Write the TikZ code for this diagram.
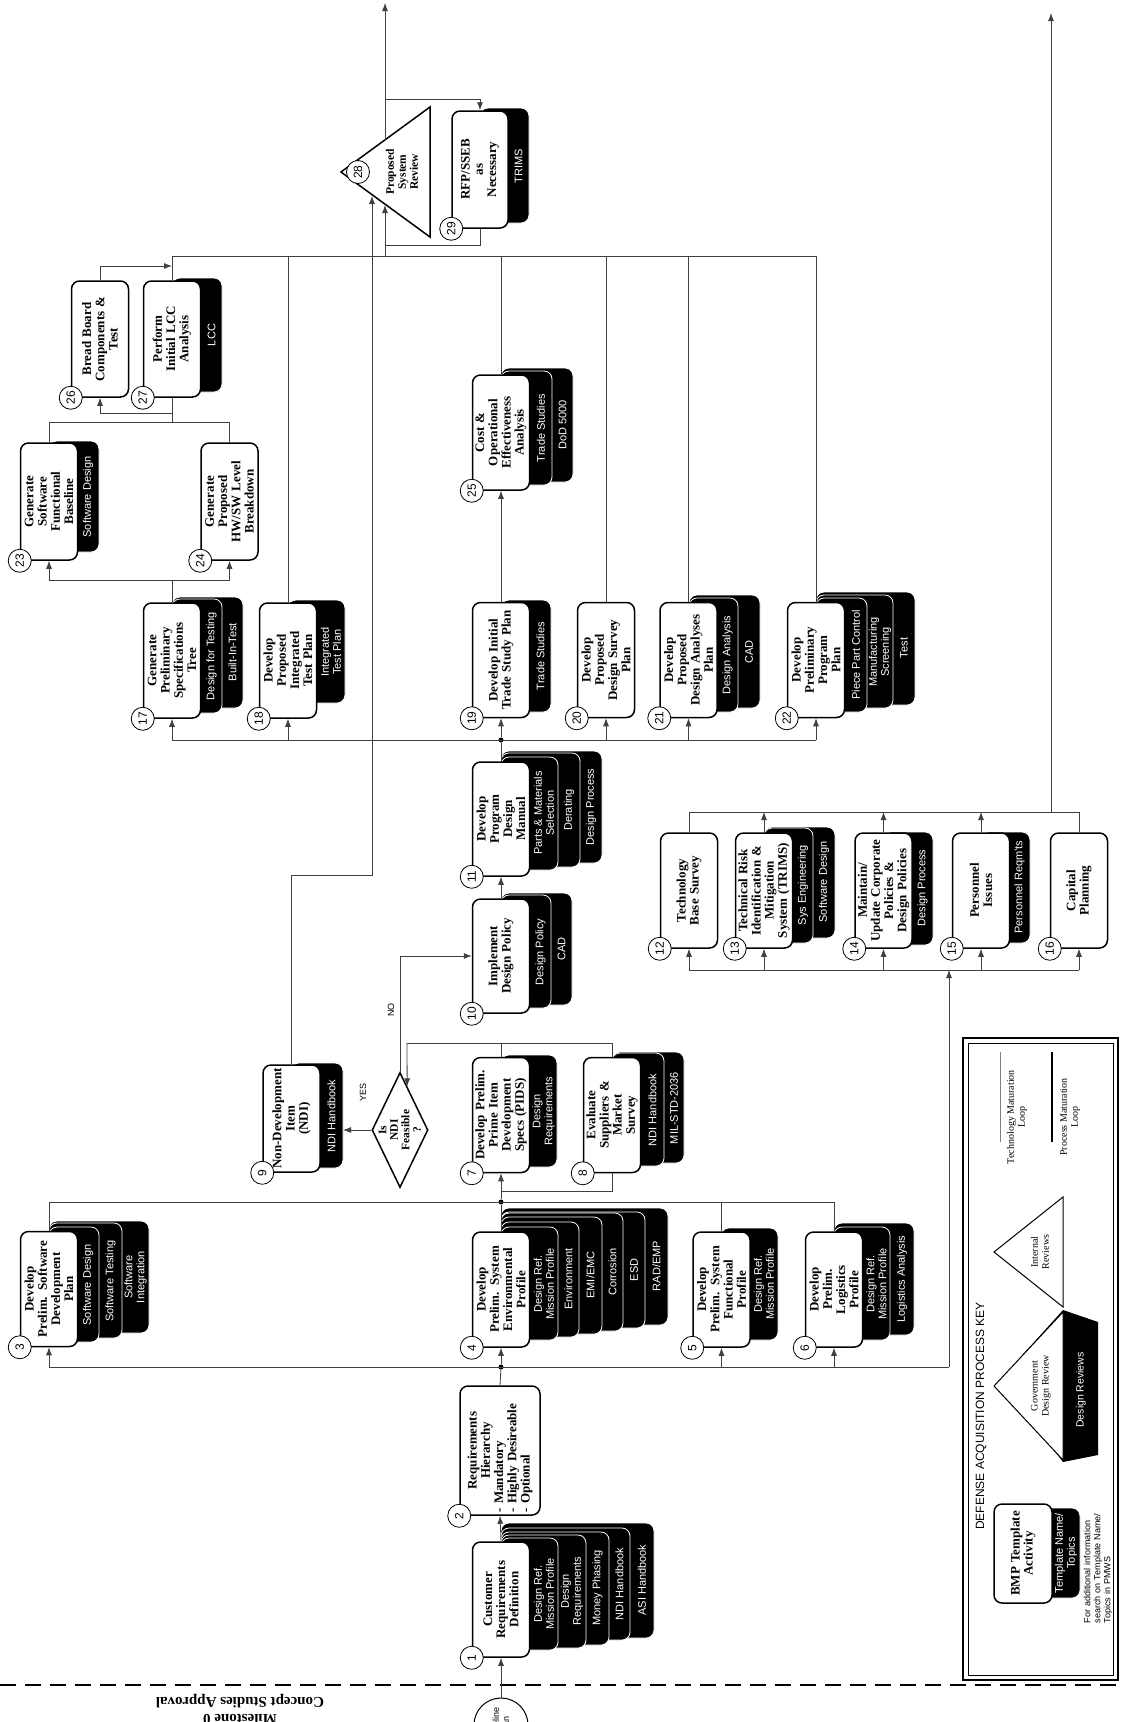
\documentclass[tikz,border=0pt]{standalone}
\usepackage{fontspec}
\setmainfont{Liberation Serif}
\setsansfont{Liberation Sans}
\usetikzlibrary{shapes.geometric, arrows.meta, calc}

\begin{document}
\begin{tikzpicture}[x=1pt, y=-1pt,
    act/.style={draw, line width=1.5pt, fill=white, rounded corners=8pt, rotate=90,
        align=center, inner sep=1pt, minimum width=115pt, minimum height=57pt,
        text width=112pt, font=\bfseries\fontsize{13}{13.2}\selectfont},
    num/.style={circle, draw, fill=white, line width=0.8pt, inner sep=0pt,
        minimum size=23pt, rotate=90, font=\sffamily\fontsize{12}{12}\selectfont},
    tabbox/.style={fill=black, draw=white, line width=0.8pt, rounded corners=8pt},
    tabtxt/.style={rotate=90, text=white, align=center, inner sep=0pt,
        font=\sffamily\fontsize{11}{12}\selectfont},
    link/.style={draw=black!75, line width=0.8pt},
    flow/.style={link, -{Latex[length=8pt, width=6pt]}},
    jdot/.style={circle, fill=black, inner sep=0pt, minimum size=5pt},
    keytxt/.style={rotate=90, align=center, font=\fontsize{10}{11}\selectfont}
]
\useasboundingbox (0,0) rectangle (1120,1722);

    % milestone line
    \draw[line width=1.5pt, dash pattern=on 16pt off 9pt] (0,1685) -- (1120,1685);
    \node[rotate=180, align=center, font=\bfseries\fontsize{15}{17}\selectfont] (ms0) at (240,1710) {Milestone 0\\Concept Studies Approval};
    \node[circle, draw, line width=1pt, fill=white, minimum size=54pt, rotate=90, align=center, font=\sffamily\fontsize{9}{10}\selectfont] (st) at (501,1725) {Baseline\\Plan};

    % 1
    \filldraw[tabbox] (501,1523) rectangle (654,1638); \node[tabtxt] (k1e) at (642,1580) {ASI Handbook};
    \filldraw[tabbox] (501,1528) rectangle (630,1640); \node[tabtxt] (k1d) at (619.5,1584) {NDI Handbook};
    \filldraw[tabbox] (501,1532) rectangle (609,1645); \node[tabtxt] (k1c) at (597.5,1588) {Money Phasing};
    \filldraw[tabbox] (501,1535) rectangle (586,1648); \node[tabtxt] (k1b) at (572,1591) {Design\\Requirements};
    \filldraw[tabbox] (501,1538) rectangle (558,1650); \node[tabtxt] (k1a) at (544,1594) {Design Ref.\\Mission Profile};
    \node[act] (b1) at (501,1599.5) {Customer\\Requirements\\Definition};
    \node[num] (n1) at (b1.north west) {1};

    % 2
    \node[act, minimum width=129pt, minimum height=80pt, text width=124pt, align=left] (b2) at (500,1450.5)
        {\hfill Requirements\hfill\null\\\hfill Hierarchy\hfill\null\\- Mandatory\\- Highly Desireable\\- Optional};
    \node[num] (n2) at (b2.north west) {2};

    % 3 - 6
    \filldraw[tabbox] (49,1221) rectangle (149,1333); \node[tabtxt] (k3c) at (135.5,1277) {Software\\Integration};
    \filldraw[tabbox] (49,1223) rectangle (122,1338); \node[tabtxt] (k3b) at (110.5,1281) {Software Testing};
    \filldraw[tabbox] (49,1227) rectangle (99,1342); \node[tabtxt] (k3a) at (88,1285) {Software Design};
    \node[act] (b3) at (49,1289) {Develop\\Prelim. Software\\Development\\Plan};
    \node[num] (n3) at (b3.north west) {3};

    \filldraw[tabbox] (501,1208) rectangle (668,1325); \node[tabtxt] (k4f) at (656.5,1266) {RAD/EMP};
    \filldraw[tabbox] (501,1212) rectangle (645,1328); \node[tabtxt] (k4e) at (634,1270) {ESD};
    \filldraw[tabbox] (501,1213) rectangle (623,1331); \node[tabtxt] (k4d) at (612.5,1272) {Corrosion};
    \filldraw[tabbox] (501,1217) rectangle (602,1334); \node[tabtxt] (k4c) at (590.5,1275) {EMI/EMC};
    \filldraw[tabbox] (501,1222) rectangle (579,1337); \node[tabtxt] (k4b) at (568.5,1279) {Environment};
    \filldraw[tabbox] (501,1227) rectangle (558,1340); \node[tabtxt] (k4a) at (544,1284) {Design Ref.\\Mission Profile};
    \node[act] (b4) at (501,1289.5) {Develop\\Prelim. System\\Environmental\\Profile};
    \node[num] (n4) at (b4.north west) {4};

    \filldraw[tabbox] (721,1228) rectangle (778,1340); \node[tabtxt] (k5a) at (764,1284) {Design Ref.\\Mission Profile};
    \node[act] (b5) at (721.5,1289.5) {Develop\\Prelim. System\\Functional\\Profile};
    \node[num] (n5) at (b5.north west) {5};

    \filldraw[tabbox] (834,1223) rectangle (914,1335); \node[tabtxt] (k6b) at (902,1279) {Logistics Analysis};
    \filldraw[tabbox] (834,1227) rectangle (890,1340); \node[tabtxt] (k6a) at (876.5,1284) {Design Ref.\\Mission Profile};
    \node[act] (b6) at (834,1289.5) {Develop\\Prelim.\\Logistics\\Profile};
    \node[num] (n6) at (b6.north west) {6};

    % 7 - 9, decision
    \filldraw[tabbox] (501,1055) rectangle (557,1167); \node[tabtxt] (k7a) at (543.5,1111) {Design\\Requirements};
    \node[act] (b7) at (501,1115) {Develop Prelim.\\Prime Item\\Development\\Specs (PIDS)};
    \node[num] (n7) at (b7.north west) {7};

    \filldraw[tabbox] (612,1052) rectangle (684,1163); \node[tabtxt] (k8b) at (674,1108) {MIL-STD-2036};
    \filldraw[tabbox] (612,1053) rectangle (664,1166); \node[tabtxt] (k8a) at (652.5,1110) {NDI Handbook};
    \node[act] (b8) at (612,1115) {Evaluate\\Suppliers \&\\Market\\Survey};
    \node[num] (n8) at (b8.north west) {8};

    \filldraw[tabbox] (291,1063) rectangle (343,1168); \node[tabtxt] (k9a) at (331.5,1116) {NDI Handbook};
    \node[act, minimum width=107pt, text width=104pt] (b9) at (291.5,1118.5) {Non-Development\\Item\\(NDI)};
    \node[num] (n9) at (b9.north west) {9};

    \node[diamond, draw, line width=1.5pt, fill=white, rotate=90, minimum width=115pt, minimum height=56pt, inner sep=0pt] (ndi) at (400,1130) {};
    \node[rotate=90, align=center, font=\bfseries\fontsize{11.5}{11.5}\selectfont] (ndit) at (ndi) {Is\\NDI\\Feasible\\?};

    % 10, 11
    \filldraw[tabbox] (501,893) rectangle (572,1005); \node[tabtxt] (k10b) at (561.5,949) {CAD};
    \filldraw[tabbox] (501,895) rectangle (551,1008); \node[tabtxt] (k10a) at (540.5,952) {Design Policy};
    \node[act, minimum width=114pt] (b10) at (501,956) {Implement\\Design Policy};
    \node[num] (n10) at (b10.north west) {10};

    \filldraw[tabbox] (501,751) rectangle (602,863); \node[tabtxt] (k11c) at (591,807) {Design Process};
    \filldraw[tabbox] (501,753) rectangle (580,867); \node[tabtxt] (k11b) at (569,810) {Derating};
    \filldraw[tabbox] (501,757) rectangle (558,870); \node[tabtxt] (k11a) at (544,813) {Parts \& Materials\\Selection};
    \node[act, minimum width=114pt] (b11) at (501,819) {Develop\\Program\\Design\\Manual};
    \node[num] (n11) at (b11.north west) {11};

    % 12 - 16
    \node[act] (b12) at (689,890.5) {Technology\\Base Survey};
    \node[num] (n12) at (b12.north west) {12};
    \filldraw[tabbox] (764,827) rectangle (835,938); \node[tabtxt] (k13b) at (824,882) {Software Design};
    \filldraw[tabbox] (764,828) rectangle (813,943); \node[tabtxt] (k13a) at (803,885) {Sys Engineering};
    \node[act] (b13) at (764,890.5) {Technical Risk\\Identification \&\\Mitigation\\System (TRIMS)};
    \node[num] (n13) at (b13.north west) {13};
    \filldraw[tabbox] (883,832) rectangle (933,945); \node[tabtxt] (k14a) at (922.5,888) {Design Process};
    \node[act] (b14) at (883.5,890.5) {Maintain/\\Update Corporate\\Policies \&\\Design Policies};
    \node[num] (n14) at (b14.north west) {14};
    \filldraw[tabbox] (981,832) rectangle (1030,943); \node[tabtxt] (k15a) at (1019.5,887) {Personnel Reqm'ts};
    \node[act] (b15) at (981,890.5) {Personnel\\Issues};
    \node[num] (n15) at (b15.north west) {15};
    \node[act] (b16) at (1079,890.5) {Capital\\Planning};
    \node[num] (n16) at (b16.north west) {16};

    % 17 - 22
    \filldraw[tabbox] (172,597) rectangle (243,708); \node[tabtxt] (k17b) at (232.5,652) {Built-In-Test};
    \filldraw[tabbox] (172,599) rectangle (222,713); \node[tabtxt] (k17a) at (211.5,656) {Design for Testing};
    \node[act] (b17) at (172,660.5) {Generate\\Preliminary\\Specifications\\Tree};
    \node[num] (n17) at (b17.north west) {17};
    \filldraw[tabbox] (288,600) rectangle (345,703); \node[tabtxt] (k18a) at (331,652) {Integrated\\Test Plan};
    \node[act] (b18) at (288,660.5) {Develop\\Proposed\\Integrated\\Test Plan};
    \node[num] (n18) at (b18.north west) {18};
    \filldraw[tabbox] (501,600) rectangle (551,712); \node[tabtxt] (k19a) at (540.5,656) {Trade Studies};
    \node[act] (b19) at (501,660) {Develop Initial\\Trade Study Plan};
    \node[num] (n19) at (b19.north west) {19};
    \node[act] (b20) at (606,660) {Develop\\Proposed\\Design Survey\\Plan};
    \node[num] (n20) at (b20.north west) {20};
    \filldraw[tabbox] (689,595) rectangle (760,708); \node[tabtxt] (k21b) at (749,652) {CAD};
    \filldraw[tabbox] (689,598) rectangle (738,712); \node[tabtxt] (k21a) at (727.5,655) {Design Analysis};
    \node[act] (b21) at (688.5,660) {Develop\\Proposed\\Design Analyses\\Plan};
    \node[num] (n21) at (b21.north west) {21};
    \filldraw[tabbox] (816,592) rectangle (915,705); \node[tabtxt] (k22c) at (904,648) {Test};
    \filldraw[tabbox] (816,595) rectangle (893,708); \node[tabtxt] (k22b) at (880,652) {Manufacturing\\Screening};
    \filldraw[tabbox] (816,598) rectangle (867,712); \node[tabtxt] (k22a) at (856,655) {Piece Part Control};
    \node[act] (b22) at (816,660) {Develop\\Preliminary\\Program\\Plan};
    \node[num] (n22) at (b22.north west) {22};

    % 23 - 27
    \filldraw[tabbox] (49,441) rectangle (99,552); \node[tabtxt] (k23a) at (88,497) {Software Design};
    \node[act, minimum width=117pt] (b23) at (49,501.5) {Generate\\Software\\Functional\\Baseline};
    \node[num] (n23) at (b23.north west) {23};
    \node[act, minimum width=117pt] (b24) at (229.5,501.5) {Generate\\Proposed\\HW/SW Level\\Breakdown};
    \node[num] (n24) at (b24.north west) {24};
    \filldraw[tabbox] (501,368) rectangle (573,482); \node[tabtxt] (k25b) at (562.5,425) {DoD 5000};
    \filldraw[tabbox] (501,371) rectangle (552,485); \node[tabtxt] (k25a) at (541,428) {Trade Studies};
    \node[act] (b25) at (501,432.5) {Cost \&\\Operational\\Effectiveness\\Analysis};
    \node[num] (n25) at (b25.north west) {25};
    \node[act, minimum width=116pt] (b26) at (100,339) {Bread Board\\Components \&\\Test};
    \node[num] (n26) at (b26.north west) {26};
    \filldraw[tabbox] (172,278) rectangle (222,392); \node[tabtxt] (k27a) at (211.5,335) {LCC};
    \node[act, minimum width=116pt] (b27) at (172,339) {Perform\\Initial LCC\\Analysis};
    \node[num] (n27) at (b27.north west) {27};

    % 28, 29
    \coordinate (p28a) at (341,172); \coordinate (p28b) at (430,107); \coordinate (p28c) at (430,237);
    \draw[line width=1.5pt, fill=white] (p28a) -- (p28b) -- (p28c) -- cycle;
    \node[rotate=90, align=center, font=\bfseries\fontsize{11.5}{12}\selectfont] (t28) at (402,172) {Proposed\\System\\Review};
    \node[num] (n28) at (358,172) {28};
    \filldraw[tabbox] (480,108) rectangle (529,223); \node[tabtxt] (k29a) at (518.5,166) {TRIMS};
    \node[act, minimum width=117pt, minimum height=56pt] (b29) at (480,169.5) {RFP/SSEB\\as\\Necessary};
    \node[num] (n29) at (b29.north west) {29};

    % connectors, lower part
    \draw[flow] (st.east) -- (b1.west);
    \draw[flow] (b1.east) -- (b2.west);
    \node[jdot] (dA) at (501,1367) {};
    \node[jdot] (dB) at (501,1202) {};
    \node[jdot] (dC) at (501,740) {};
    \coordinate (eA) at (949,1367);
    \coordinate (eB) at (834,1202);
    \draw[link] (b2.east) -- (dA);
    \draw[link] (b3.west |- dA) -- (eA);
    \draw[flow] (b3.west |- dA) -- (b3.west);
    \draw[flow] (dA) -- (b4.west);
    \draw[flow] (b5.west |- dA) -- (b5.west);
    \draw[flow] (b6.west |- dA) -- (b6.west);
    \draw[link] (b3.east) -- (b3.east |- dB) -- (eB) -- (b6.east);
    \draw[link] (b4.east) -- (dB);
    \draw[link] (b5.east) -- (b5.east |- dB);
    \draw[flow] (dB) -- (b7.west);
    \coordinate (m8) at (501,1191);
    \draw[link] (b8.west) |- (m8);
    \coordinate (m78) at (407,1043);
    \draw[link] (b7.east) -- (b7.east |- m78);
    \draw[link] (b8.east) |- (m78);
    \draw[flow] (m78) -- ($(ndi.east)!0.25!(ndi.south)$);
    \coordinate (y9) at (343,1130);
    \draw[flow] (ndi.north) -- (y9);
    \node[rotate=90, font=\sffamily\fontsize{9}{9}\selectfont] (yes) at (363,1092) {YES};
    \draw[flow] (ndi.east) |- (b10.north);
    \node[rotate=90, font=\sffamily\fontsize{9}{9}\selectfont] (no) at (391,1010) {NO};
    \draw[flow] (b10.east) -- (b11.west);
    \draw[link] (b11.east) -- (dC);

    % connectors, 12 - 16
    \coordinate (eC) at (949,970);
    \draw[flow] (eA) -- (eC);
    \coordinate (ub) at (689,812);
    \coordinate (lb) at (689,970);
    \draw[link] (b12.east) -- (ub) -- (b16.east |- ub) -- (b16.east);
    \draw[flow] (b13.east) -- (b13.east |- ub);
    \draw[flow] (b14.east) -- (b14.east |- ub);
    \draw[flow] (b15.east) -- (b15.east |- ub);
    \draw[link] (lb) -- (b16.west |- lb);
    \draw[flow] (lb) -- (b12.west);
    \draw[flow] (b13.west |- lb) -- (b13.west);
    \draw[flow] (b14.west |- lb) -- (b14.west);
    \draw[flow] (b15.west |- lb) -- (b15.west);
    \draw[flow] (b16.west |- lb) -- (b16.west);
    \coordinate (r1) at (1051,812);
    \coordinate (r2) at (1051,13);
    \draw[flow] (r1) -- (r2);

    % connectors, upper part
    \draw[link] (b17.west |- dC) -- (b22.west |- dC);
    \draw[flow] (b17.west |- dC) -- (b17.west);
    \draw[flow] (b18.west |- dC) -- (b18.west);
    \draw[flow] (dC) -- (b19.west);
    \draw[flow] (b20.west |- dC) -- (b20.west);
    \draw[flow] (b21.west |- dC) -- (b21.west);
    \draw[flow] (b22.west |- dC) -- (b22.west);
    \draw[flow] (b19.east) -- (b25.west);
    \coordinate (tb) at (172,256);
    \coordinate (te) at (816,256);
    \draw[link] (b27.east) -- (tb) -- (te) -- (b22.east);
    \draw[link] (b18.east) -- (b18.east |- tb);
    \draw[link] (b25.east) -- (b25.east |- tb);
    \draw[link] (b20.east) -- (b20.east |- tb);
    \draw[link] (b21.east) -- (b21.east |- tb);
    \coordinate (j26) at (172,266);
    \draw[flow] (b26.east) |- (j26);
    \coordinate (j23) at (172,422);
    \coordinate (j26b) at (172,413);
    \draw[link] (b23.east) |- (b24.east |- j23) -- (b24.east);
    \draw[link] (j23) -- (b27.west);
    \draw[flow] (j26b) -| (b26.west);
    \coordinate (j17) at (172,580);
    \draw[link] (b17.east) -- (j17);
    \draw[flow] (j17) -| (b23.west);
    \draw[flow] (j17) -| (b24.west);
    \coordinate (k1) at (372,875);
    \coordinate (k2) at (372,196);
    \draw[flow] (b9.east) |- (k1) -- (k2);
    \coordinate (k3) at (385,256);
    \coordinate (k4) at (385,205);
    \draw[flow] (k3) -- (k4);
    \coordinate (k5) at (385,140);
    \coordinate (k6) at (385,3);
    \draw[flow] (k5) -- (k6);
    \coordinate (k7) at (385,99);
    \draw[flow] (k7) -| (b29.east);
    \coordinate (k8) at (385,245);
    \draw[link] (b29.west) |- (k8);

    % key
    \draw[line width=2pt] (963,1038) rectangle (1118,1680);
    \draw[line width=0.6pt] (968,1043) rectangle (1113,1675);
    \node[rotate=90, font=\sffamily\fontsize{12}{12}\selectfont] (keyt) at (981,1416) {DEFENSE ACQUISITION PROCESS KEY};
    \draw[black!50, line width=0.8pt] (1000,1052) -- (1000,1142);
    \node[keytxt] (ktm) at (1017,1117) {Technology Maturation\\Loop};
    \draw[line width=2pt] (1052,1052) -- (1052,1142);
    \node[keytxt] (kpm) at (1070,1117) {Process Maturation\\Loop};
    \draw[line width=1pt, fill=white] (994,1252) -- (1063,1197) -- (1063,1307) -- cycle;
    \node[keytxt] (kir) at (1040,1252) {Internal\\Reviews};
    \fill (1000,1380) -- (1063,1310) -- (1098,1322) -- (1098,1455) -- (1063,1462) -- cycle;
    \draw[line width=1pt, fill=white] (994,1386) -- (1063,1312) -- (1063,1460) -- cycle;
    \node[keytxt] (kgr) at (1041,1386) {Government\\Design Review};
    \node[tabtxt, font=\sffamily\fontsize{10.5}{11}\selectfont] (kdr) at (1081,1390) {Design Reviews};
    \filldraw[tabbox] (1023,1508) rectangle (1080,1598); \node[tabtxt] (kbt) at (1066,1553) {Template Name/\\Topics};
    \node[act, minimum width=99pt, minimum height=58pt, text width=95pt] (kb) at (1023,1553.5) {BMP Template\\Activity};
    \node[rotate=90, align=left, text width=150pt, font=\sffamily\fontsize{9}{10}\selectfont] (kfn) at (1098,1548)
        {For additional information\\search on Template Name/\\Topics in PMWS};
\end{tikzpicture}
\end{document}
